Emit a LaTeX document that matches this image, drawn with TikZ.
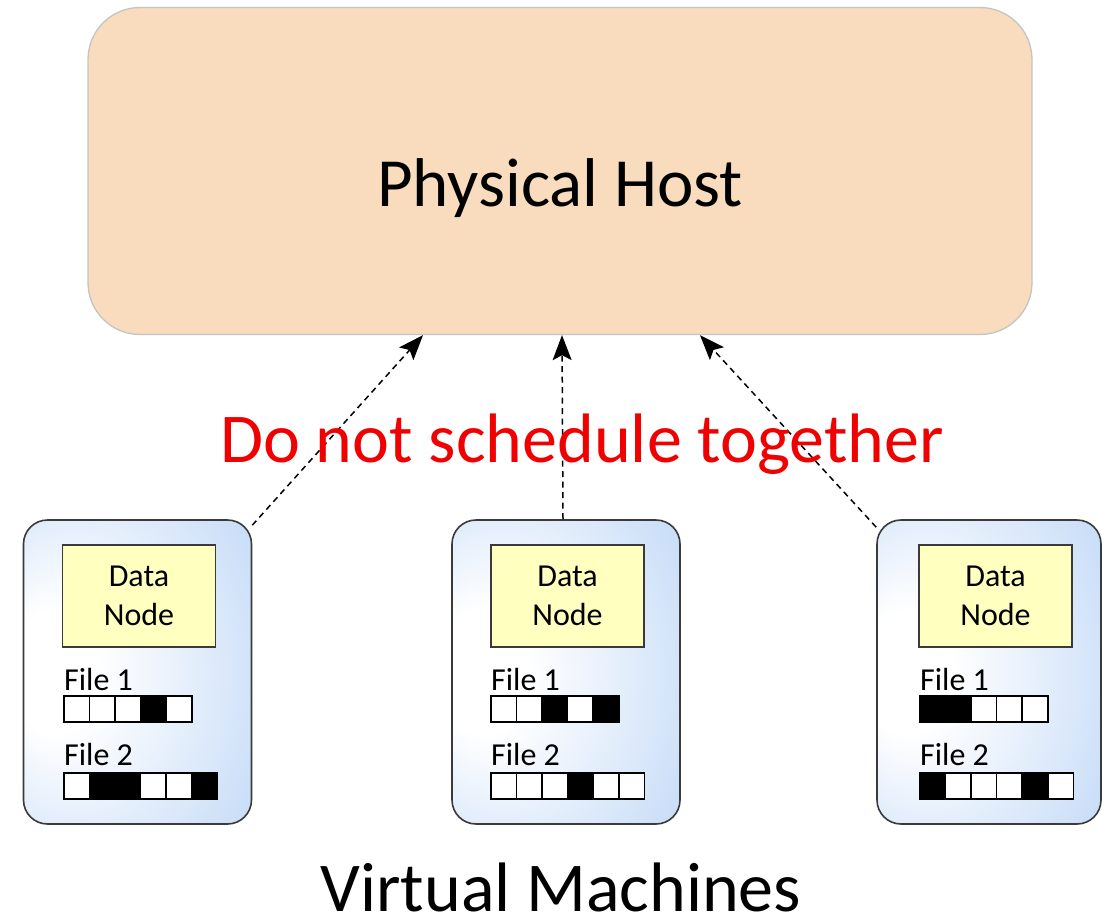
\documentclass[tikz,border=0pt]{standalone}
\usepackage{fontspec}
\setmainfont{Carlito}
\usetikzlibrary{arrows.meta,calc}

\definecolor{hostfill}{HTML}{F8DCBD}
\definecolor{hostline}{HTML}{C4C4C4}
\definecolor{vmblue}{HTML}{C8DDF8}
\definecolor{vmline}{HTML}{3A3A3A}
\definecolor{dnfill}{HTML}{FFFFC0}
\definecolor{warnred}{HTML}{F00000}

% white glow on the left side of each virtual machine panel
\pgfdeclareradialshading{vmglow}{\pgfpoint{-22bp}{0bp}}{%
  color(0bp)=(white); color(10bp)=(white); color(40bp)=(vmblue); color(60bp)=(vmblue)}

\tikzset{
  hostbox/.style={draw=hostline, line width=1.3pt, fill=hostfill,
    rounded corners=52pt, minimum width=944pt, minimum height=327pt},
  vmbox/.style={draw=vmline, line width=1.6pt, shading=vmglow,
    rounded corners=24pt, minimum width=228pt, minimum height=304pt},
  dnbox/.style={draw=vmline, line width=1.4pt, fill=dnfill,
    minimum width=153pt, minimum height=102pt, align=center,
    font=\fontsize{32}{39}\selectfont},
  filelabel/.style={anchor=base west, inner sep=0pt,
    font=\fontsize{32}{36}\selectfont},
  cell/.style={draw=black, line width=1.6pt, minimum width=25.6pt,
    minimum height=26pt, inner sep=0pt, anchor=north west},
  cell0/.style={fill=white},
  cell1/.style={fill=black},
  conn/.style={draw=black, line width=1.5pt, dash pattern=on 6pt off 4.5pt,
    -{Stealth[length=25pt,width=19pt,inset=5pt]}},
}

% one row of blocks of a file: name prefix, top-left corner, block pattern
\newcommand{\blockrow}[4]{%
  \foreach \b [count=\i] in {#4} {
    \node[cell, cell\b] (#1\i) at ($(#2,#3)+(25.6*\i-25.6,0)$) {};
  }%
}

\begin{document}
\begin{tikzpicture}[x=1pt, y=-1pt]
\useasboundingbox[fill=white] (0,0) rectangle (1102,918);

% physical host
\node[hostbox] (host) at (560,171) {};
\node[anchor=base, inner sep=0pt, font=\fontsize{69}{76}\selectfont]
  (hostlabel) at (560,206) {Physical Host};

% virtual machines
\node[vmbox] (vm1) at (137.5,672) {};
\node[vmbox] (vm2) at (566,672) {};
\node[vmbox, minimum width=224pt] (vm3) at (989,672) {};

% data nodes
\node[dnbox] (dn1) at (139,596) {Data\\Node};
\node[dnbox] (dn2) at (567.5,596) {Data\\Node};
\node[dnbox] (dn3) at (995.5,596) {Data\\Node};

% file labels and block rows
\node[filelabel] (f1a) at (64,690) {File 1};
\node[filelabel] (f1b) at (64,765) {File 2};
\blockrow{r1a}{63}{695}{0,0,0,1,0}
\blockrow{r1b}{63}{772}{0,1,1,0,0,1}

\node[filelabel] (f2a) at (491,690) {File 1};
\node[filelabel] (f2b) at (491,765) {File 2};
\blockrow{r2a}{490}{695}{0,0,1,0,1}
\blockrow{r2b}{490}{772}{0,0,0,1,0,0}

\node[filelabel] (f3a) at (920,690) {File 1};
\node[filelabel] (f3b) at (920,765) {File 2};
\blockrow{r3a}{919}{695}{1,1,0,0,0}
\blockrow{r3b}{919}{772}{1,0,0,0,1,0}

% scheduling constraint
\draw[conn] ([shift={(0,6)}]vm1.north east) -- ([xshift=-137pt]host.south);
\draw[conn] ([xshift=-3pt]vm2.north) -- ([xshift=2pt]host.south);
\draw[conn] ([shift={(0,8)}]vm3.north west) -- ([xshift=140pt]host.south);

\node[anchor=base, inner sep=0pt, text=warnred, font=\fontsize{70}{78}\selectfont]
  (warn) at (582,462) {Do not schedule together};

\node[anchor=base, inner sep=0pt, text depth=0pt, font=\fontsize{70}{78}\selectfont]
  (vmlabel) at (561,911) {Virtual Machines};
\end{tikzpicture}
\end{document}
